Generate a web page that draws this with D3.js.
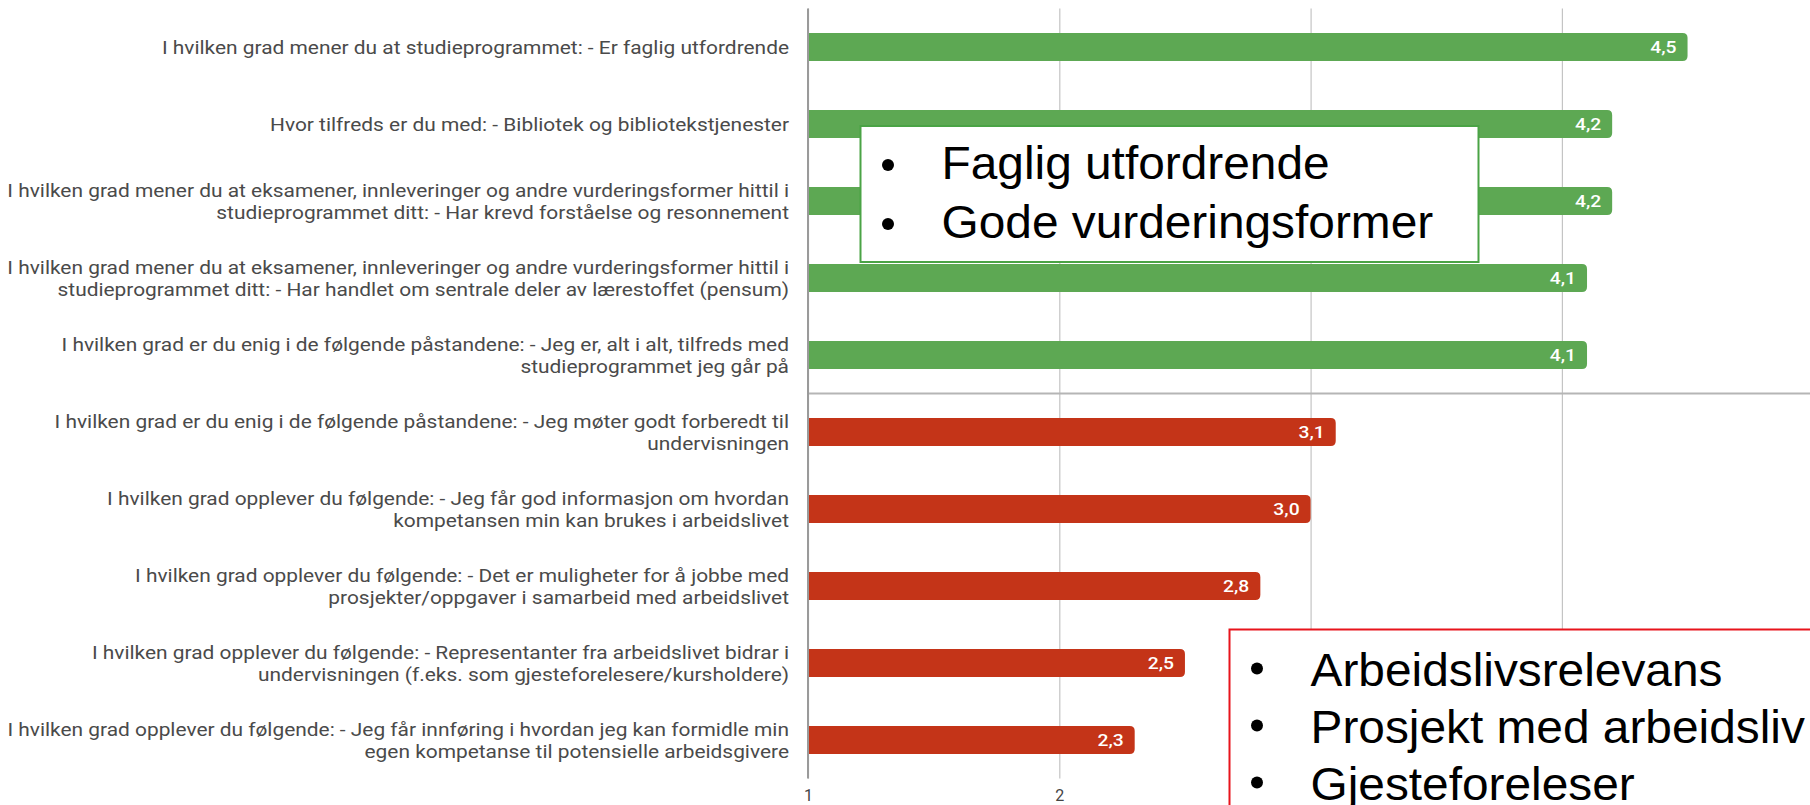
<!DOCTYPE html>
<html>
<head>
<meta charset="utf-8">
<script src="https://cdn.jsdelivr.net/npm/d3@7"></script>
<style>
    body { margin: 0; background: #fff; }
    svg { display: block; }
</style>
</head>
<body>
<div id="chart"></div>
<script>
// survey questions, one entry per line of the wrapped label
const questions = [
    ["I hvilken grad mener du at studieprogrammet: - Er faglig utfordrende"],
    ["Hvor tilfreds er du med: - Bibliotek og bibliotekstjenester"],
    ["I hvilken grad mener du at eksamener, innleveringer og andre vurderingsformer hittil i",
        "studieprogrammet ditt: - Har krevd forståelse og resonnement"],
    ["I hvilken grad mener du at eksamener, innleveringer og andre vurderingsformer hittil i",
        "studieprogrammet ditt: - Har handlet om sentrale deler av lærestoffet (pensum)"],
    ["I hvilken grad er du enig i de følgende påstandene: - Jeg er, alt i alt, tilfreds med",
        "studieprogrammet jeg går på"],
    ["I hvilken grad er du enig i de følgende påstandene: - Jeg møter godt forberedt til",
        "undervisningen"],
    ["I hvilken grad opplever du følgende: - Jeg får god informasjon om hvordan",
        "kompetansen min kan brukes i arbeidslivet"],
    ["I hvilken grad opplever du følgende: - Det er muligheter for å jobbe med",
        "prosjekter/oppgaver i samarbeid med arbeidslivet"],
    ["I hvilken grad opplever du følgende: - Representanter fra arbeidslivet bidrar i",
        "undervisningen (f.eks. som gjesteforelesere/kursholdere)"],
    ["I hvilken grad opplever du følgende: - Jeg får innføring i hvordan jeg kan formidle min",
        "egen kompetanse til potensielle arbeidsgivere"]
];
const scores = [4.5, 4.2, 4.2, 4.1, 4.1, 3.1, 3.0, 2.8, 2.5, 2.3];
const groups = ["sterk", "sterk", "sterk", "sterk", "sterk", "svak", "svak", "svak", "svak", "svak"];
const xTicks = [1, 2, 3, 4, 5];

const strongNotes = ["Faglig utfordrende", "Gode vurderingsformer"];
const weakNotes = ["Arbeidslivsrelevans", "Prosjekt med arbeidsliv", "Gjesteforeleser"];

const width = 1810, height = 805;
const plotLeft = 808, plotTop = 8.5, plotBottom = 778.5;
const weakBoxLeft = 1229.5;

const svg = d3.select("#chart")
    .append("svg")
    .attr("width", width)
    .attr("height", height);

const x = d3.scaleLinear()
    .domain([1, 5])
    .range([plotLeft, plotLeft + 4 * 251.3]);

const y = d3.scaleBand()
    .domain(d3.range(questions.length))
    .range([plotTop, plotBottom])
    .paddingInner(0.636)
    .paddingOuter(0.318);

const color = d3.scaleOrdinal()
    .domain(["sterk", "svak"])
    .range(["#5da853", "#c43418"]);

// gridlines + tick labels
const xAxis = svg.append("g")
    .attr("transform", "translate(0," + plotBottom + ")")
    .call(d3.axisBottom(x).tickValues(xTicks).tickSize(-(plotBottom - plotTop)).tickFormat(d3.format("d")));
xAxis.select(".domain").remove();
xAxis.selectAll(".tick line").attr("stroke", "#c4c4c4").attr("stroke-width", 1.2);
xAxis.selectAll(".tick text")
    .attr("dy", 0)
    .attr("y", 22)
    .style("font-family", "Roboto, sans-serif")
    .style("font-size", "16px")
    .attr("fill", "#444");
// labels that sit under the note box are hidden in the slide
xAxis.selectAll(".tick text").filter(d => x(d) > weakBoxLeft).remove();

// separator between the two groups
const sepY = (y(4) + y.bandwidth() + y(5)) / 2;
svg.append("line")
    .attr("x1", plotLeft).attr("x2", width)
    .attr("y1", sepY).attr("y2", sepY)
    .attr("stroke", "#b5b5b5")
    .attr("stroke-width", 2);

// left axis line
svg.append("line")
    .attr("x1", plotLeft).attr("x2", plotLeft)
    .attr("y1", plotTop).attr("y2", plotBottom)
    .attr("stroke", "#9a9a9a")
    .attr("stroke-width", 2);

function barPath(x0, x1, y0, h, r) {
    const p = d3.path();
    p.moveTo(x0, y0);
    p.lineTo(x1 - r, y0);
    p.quadraticCurveTo(x1, y0, x1, y0 + r);
    p.lineTo(x1, y0 + h - r);
    p.quadraticCurveTo(x1, y0 + h, x1 - r, y0 + h);
    p.lineTo(x0, y0 + h);
    p.closePath();
    return p.toString();
}

// bars
svg.selectAll(".bar")
    .data(scores)
    .enter()
    .append("path")
    .classed("bar", true)
    .attr("d", (d, i) => barPath(x(1) + 1, x(d), y(i), y.bandwidth(), 5))
    .attr("fill", (d, i) => color(groups[i]));

// value labels (the slide image is a bit stretched sideways)
svg.selectAll(".value")
    .data(scores)
    .enter()
    .append("text")
    .classed("value", true)
    .attr("transform", (d, i) => `translate(${x(d) - 11},${y(i) + y.bandwidth() / 2 + 6}) scale(1.17,1)`)
    .attr("text-anchor", "end")
    .attr("fill", "#fff")
    .style("font-family", "Roboto, sans-serif")
    .style("font-size", "16.5px")
    .style("font-weight", 500)
    .text(d => d.toFixed(1).replace(".", ","));

// question labels
const lineH = 21.7;
questions.forEach((lines, i) => {
    const c = y(i) + y.bandwidth() / 2;
    const t = svg.append("text")
        .attr("transform", "translate(789,0) scale(1.1,1)")
        .attr("text-anchor", "end")
        .attr("fill", "#4a4a4a")
        .style("font-family", "Roboto, sans-serif")
        .style("font-size", "19px");
    lines.forEach((line, k) => {
        t.append("tspan")
            .attr("x", 0)
            .attr("y", c + 6.8 - (lines.length - 1) * lineH / 2 + k * lineH)
            .text(line);
    });
});

// annotation boxes
function noteBox(x0, y0, w, h, stroke, notes, base, step, dotOff) {
    const g = svg.append("g");
    g.append("rect")
        .attr("x", x0).attr("y", y0)
        .attr("width", w).attr("height", h)
        .attr("fill", "#fff")
        .attr("stroke", stroke)
        .attr("stroke-width", 2);
    notes.forEach((n, k) => {
        g.append("circle")
            .attr("cx", x0 + 27.5)
            .attr("cy", base + k * step - dotOff)
            .attr("r", 6)
            .attr("fill", "#000");
        g.append("text")
            .attr("transform", `translate(${x0 + 81},${base + k * step}) scale(1.04,1)`)
            .style("font-family", "'Liberation Sans', Arial, sans-serif")
            .style("font-size", "46px")
            .attr("fill", "#000")
            .text(n);
    });
}

noteBox(860.5, 126, 618, 136, "#4aa345", strongNotes, 179, 59, 14);
noteBox(weakBoxLeft, 629.5, 600, 200, "#e8141c", weakNotes, 685.5, 57, 17);
</script>
</body>
</html>
